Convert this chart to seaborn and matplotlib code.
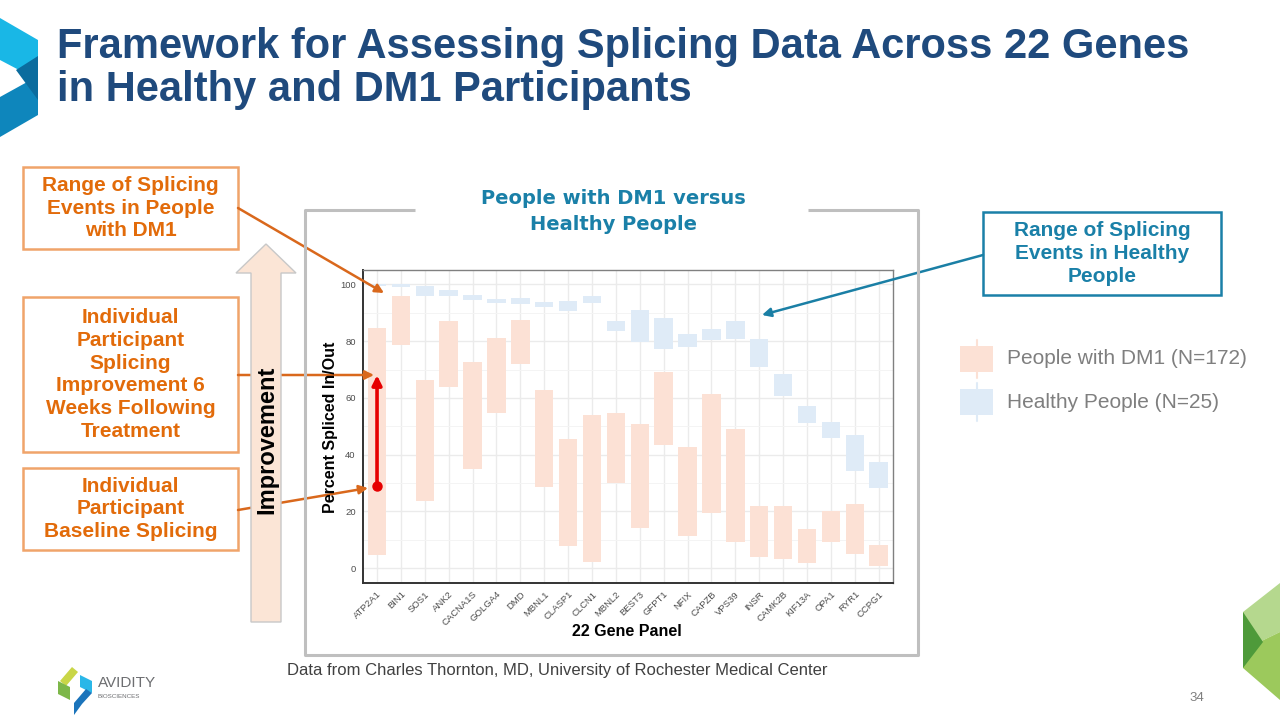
import matplotlib
matplotlib.use('Agg')
import numpy as np
import pandas as pd
import seaborn as sns
import matplotlib.pyplot as plt
from matplotlib.patches import Rectangle, Polygon, FancyArrowPatch
from matplotlib.lines import Line2D

# data (percent spliced in/out, range per gene)
genes = ['ATP2A1', 'BIN1', 'SOS1', 'ANK2', 'CACNA1S', 'GOLGA4', 'DMD', 'MBNL1',
         'CLASP1', 'CLCN1', 'MBNL2', 'BEST3', 'GFPT1', 'NFIX', 'CAPZB', 'VPS39',
         'INSR', 'CAMK2B', 'KIF13A', 'OPA1', 'RYR1', 'CCPG1']
dm1_low = [4.8, 78.6, 23.6, 63.8, 34.9, 54.7, 71.8, 28.6, 8.0, 2.3, 30.1,
           14.3, 43.5, 11.5, 19.6, 9.4, 3.9, 3.1, 1.8, 9.3, 5.0, 0.7]
dm1_high = [84.5, 95.9, 66.2, 87.3, 72.7, 81.2, 87.4, 62.9, 45.5, 54.0, 54.6,
            50.7, 69.1, 42.8, 61.5, 49.2, 22.1, 21.8, 13.8, 20.0, 22.5, 8.2]
healthy_low = [99.4, 99.2, 96.0, 96.0, 94.5, 93.5, 93.1, 92.1, 90.7, 93.5, 83.7,
               79.8, 77.3, 77.9, 80.5, 80.8, 70.9, 60.7, 51.3, 45.9, 34.3, 28.4]
healthy_high = [100.3, 100.3, 99.4, 98.2, 96.2, 94.8, 95.3, 93.8, 94.1, 95.9, 87.0,
                91.0, 88.1, 82.6, 84.3, 87.0, 80.8, 68.5, 57.3, 51.5, 46.9, 37.6]
baseline_psi = 29
week6_psi = 68

legend_labels = ['People with DM1 (N=172)', 'Healthy People (N=25)']

df = pd.DataFrame({'gene': genes, 'dm1_low': dm1_low, 'dm1_high': dm1_high,
                   'h_low': healthy_low, 'h_high': healthy_high})
df['dm1_range'] = df['dm1_high'] - df['dm1_low']
df['h_range'] = df['h_high'] - df['h_low']

sns.set_style('white')
plt.rcParams['font.family'] = ['Liberation Sans', 'DejaVu Sans']

DM1_COL = '#FCE1D5'
H_COL = '#DFEBF7'
ORANGE = '#E26B0A'
ORANGE_EDGE = '#F0A46A'
TEAL = '#1A80A8'
NAVY = '#1F4A7D'

fig = plt.figure(figsize=(12.8, 7.2), dpi=100)


def fx(x):
    return x / 1280


def fy(y):
    return 1 - y / 720


ax = fig.add_axes([fx(362.7), fy(582.7), (893 - 362.7) / 1280, (582.7 - 270) / 720])
ax.set_axisbelow(True)

sns.barplot(data=df, x='gene', y='dm1_range', bottom=df['dm1_low'].values,
            color=DM1_COL, saturation=1, width=0.77, errorbar=None,
            linewidth=0, ax=ax, zorder=2)
sns.barplot(data=df, x='gene', y='h_range', bottom=df['h_low'].values,
            color=H_COL, saturation=1, width=0.77, errorbar=None,
            linewidth=0, ax=ax, zorder=2)

ax.set_xlim(-0.6, len(genes) - 0.4)
ax.set_ylim(-5.1, 105.1)
ax.set_yticks([0, 20, 40, 60, 80, 100])
ax.set_yticks([10, 30, 50, 70, 90], minor=True)
ax.grid(True, which='major', axis='both', color='#EBEBEB', lw=1.0)
ax.grid(True, which='minor', axis='y', color='#F4F4F4', lw=0.7)
ax.set_xticks(range(len(genes)))
ax.set_xticklabels(genes, rotation=45, ha='right', rotation_mode='anchor',
                   fontsize=6.8, color='#4D4D4D')
ax.tick_params(axis='both', which='major', length=3, width=0.8, color='#333333',
               labelsize=6.8, labelcolor='#4D4D4D', pad=2)
ax.tick_params(axis='y', which='minor', length=0)
ax.set_xlabel('')
ax.set_ylabel('')
for s in ['left', 'bottom']:
    ax.spines[s].set_color('#333333')
    ax.spines[s].set_linewidth(1.4)
for s in ['top', 'right']:
    ax.spines[s].set_color('#808080')
    ax.spines[s].set_linewidth(1.0)

# individual participant: baseline -> week 6
ax.annotate('', xy=(0, week6_psi), xytext=(0, baseline_psi),
            arrowprops=dict(arrowstyle='-|>', color='#E60000', lw=2.6,
                            mutation_scale=14, shrinkA=0, shrinkB=0), zorder=5)
ax.plot([0], [baseline_psi], 'o', color='#E60000', ms=6.5, zorder=6)

fig.text(fx(330), fy(427), 'Percent Spliced In/Out', rotation=90, fontsize=11.5,
         fontweight='bold', ha='center', va='center', color='black')
fig.text(fx(627), fy(632), '22 Gene Panel', fontsize=11.5, fontweight='bold',
         ha='center', va='center', color='black')

# slide title
fig.text(fx(57), fy(47), 'Framework for Assessing Splicing Data Across 22 Genes',
         fontsize=30, fontweight='bold', color=NAVY, ha='left', va='center')
fig.text(fx(57), fy(90), 'in Healthy and DM1 Participants',
         fontsize=30, fontweight='bold', color=NAVY, ha='left', va='center')

# gray frame around the chart with a gap for its heading
frame_kw = dict(color='#BFBFBF', lw=2.2, transform=fig.transFigure, solid_capstyle='butt')
fig.add_artist(Line2D([fx(415), fx(305), fx(305), fx(918), fx(918), fx(808)],
                      [fy(210), fy(210), fy(655), fy(655), fy(210), fy(210)], **frame_kw))
fig.text(fx(613), fy(198), 'People with DM1 versus', fontsize=14, fontweight='bold',
         color=TEAL, ha='center', va='center', family='DejaVu Sans')
fig.text(fx(613), fy(224), 'Healthy People', fontsize=14, fontweight='bold',
         color=TEAL, ha='center', va='center', family='DejaVu Sans')


def box(x0, y0, x1, y1, edge, text, color):
    fig.add_artist(Rectangle((fx(x0), fy(y1)), fx(x1) - fx(x0), fy(y0) - fy(y1),
                             transform=fig.transFigure, facecolor='white',
                             edgecolor=edge, lw=1.8))
    fig.text(fx((x0 + x1) / 2), fy((y0 + y1) / 2), text, fontsize=15, fontweight='bold',
             color=color, ha='center', va='center', linespacing=1.25)


def connector(p0, p1, color):
    fig.add_artist(FancyArrowPatch((fx(p0[0]), fy(p0[1])), (fx(p1[0]), fy(p1[1])),
                                   transform=fig.transFigure, arrowstyle='-|>',
                                   mutation_scale=13, color=color, lw=1.8,
                                   shrinkA=0, shrinkB=0))


box(23, 167, 238, 249, ORANGE_EDGE, 'Range of Splicing\nEvents in People\nwith DM1', ORANGE)
box(23, 297, 238, 452, ORANGE_EDGE,
    'Individual\nParticipant\nSplicing\nImprovement 6\nWeeks Following\nTreatment', ORANGE)
box(23, 468, 238, 550, ORANGE_EDGE, 'Individual\nParticipant\nBaseline Splicing', ORANGE)
box(983, 212, 1221, 295, TEAL, 'Range of Splicing\nEvents in Healthy\nPeople', TEAL)

connector((238, 208), (384, 293), '#D9681C')
connector((238, 375), (374, 375), '#D9681C')
connector((238, 510), (368, 488), '#D9681C')
connector((983, 255), (762, 315), '#1A7FA5')

# big "Improvement" block arrow
imp = [(251, 622), (251, 273), (236, 273), (266, 244), (296, 273), (281, 273), (281, 622)]
fig.add_artist(Polygon([(fx(x), fy(y)) for x, y in imp], closed=True,
                       transform=fig.transFigure, facecolor='#FBE5D6',
                       edgecolor='#C8C8C8', lw=1.0))
fig.text(fx(267), fy(440), 'Improvement', rotation=90, fontsize=17, fontweight='bold',
         color='black', ha='center', va='center')

# legend
for (yk, col, lab) in [(359, DM1_COL, legend_labels[0]), (402, H_COL, legend_labels[1])]:
    fig.add_artist(Line2D([fx(976.5), fx(976.5)], [fy(yk - 19), fy(yk + 19)],
                          transform=fig.transFigure, color=col, lw=1.5))
    fig.add_artist(Rectangle((fx(960), fy(yk + 13)), fx(33), fy(0) - fy(26),
                             transform=fig.transFigure, facecolor=col, lw=0))
    fig.text(fx(1007), fy(yk), lab, fontsize=15, color='#7F7F7F', ha='left', va='center')

fig.text(fx(287), fy(670), 'Data from Charles Thornton, MD, University of Rochester Medical Center',
         fontsize=12, color='#404040', ha='left', va='center')
fig.text(fx(1197), fy(698), '34', fontsize=9.5, color='#7F7F7F', ha='center', va='center')


def poly(pts, col):
    fig.add_artist(Polygon([(fx(x), fy(y)) for x, y in pts], closed=True,
                           transform=fig.transFigure, facecolor=col, lw=0))


# top-left corner mark
poly([(0, 18), (38, 40), (38, 80), (0, 60)], '#19B7E6')
poly([(0, 97), (38, 76), (38, 115), (0, 137)], '#0E86BC')
poly([(16, 70), (38, 56), (38, 100)], '#0B6C9E')

# bottom-right corner mark
poly([(1243, 612), (1280, 583), (1280, 632), (1243, 650)], '#B5D88E')
poly([(1243, 650), (1280, 632), (1280, 700), (1243, 668)], '#9CC95C')
poly([(1243, 612), (1263, 642), (1243, 668)], '#4E9A3A')

# company logo
poly([(72, 667), (78, 672), (66, 686), (60, 681)], '#C9D647')
poly([(58, 681), (70, 687), (70, 700), (58, 694)], '#7DB749')
poly([(80, 675), (92, 681), (92, 693), (80, 687)], '#2AB7E8')
poly([(92, 693), (82, 704), (74, 715), (74, 703), (86, 689)], '#1B74BB')
fig.text(fx(98), fy(683), 'AVIDITY', fontsize=11, color='#6D6E71', ha='left', va='center')
fig.text(fx(98), fy(696), 'BIOSCIENCES', fontsize=4.5, color='#6D6E71', ha='left', va='center')

fig.savefig('out.png', dpi=100)
